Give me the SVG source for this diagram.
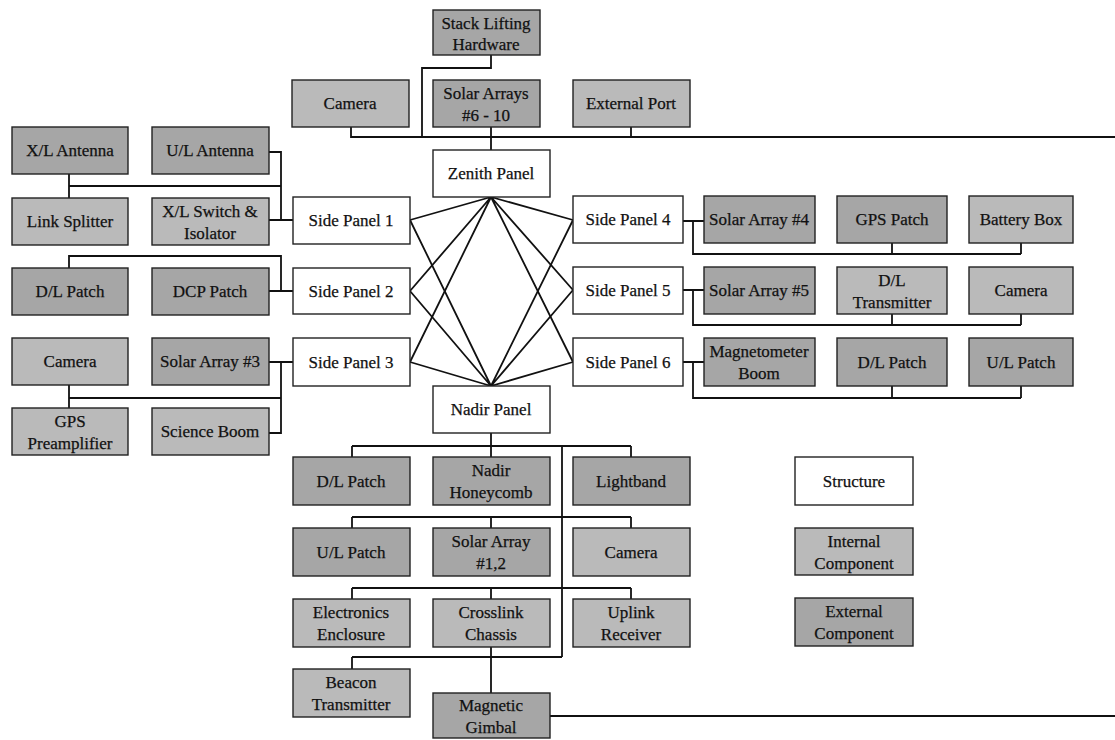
<svg xmlns="http://www.w3.org/2000/svg" width="1115" height="740" viewBox="0 0 1115 740" font-family="Liberation Serif, Tinos, DejaVu Serif, Times New Roman, serif">
<style>
.s rect{fill:#ffffff;stroke:#222;stroke-width:1.4}
.i rect{fill:#bababa;stroke:#222;stroke-width:1.4}
.e rect{fill:#a6a6a6;stroke:#222;stroke-width:1.4}
.t{font-size:17px;fill:#111;text-anchor:middle;stroke:#111;stroke-width:0.25}
#connectors path{fill:none;stroke:#111;stroke-width:1.8}
</style>
<rect width="1115" height="740" fill="#ffffff"/>
<g id="connectors">
<path d="M351,127V137H1115M491,55V68H422V137M491,127V150M631,127V137"/>
<path d="M69,174V198M69,186H281M269,152H281V220M269,220H293"/>
<path d="M69,268V256H281V291M269,291H293"/>
<path d="M269,362H293M281,362V433H269M69,385V408M69,398H281"/>
<path d="M491,197L410,220M491,197L410,291M491,197L410,362M491,197L573,220M491,197L573,290M491,197L573,362"/>
<path d="M491,386L410,220M491,386L410,291M491,386L410,362M491,386L573,220M491,386L573,290M491,386L573,362"/>
<path d="M683,221H704M693,221V254H1021M892,243V254M1021,243V254"/>
<path d="M683,290H704M693,290V325H1021M892,313V325M1021,313V325"/>
<path d="M683,362H704M693,362V398H1021M892,386V398M1021,386V398"/>
<path d="M491,433V446M352,446H631M352,446V457M491,446V457M631,446V457M562,446V657"/>
<path d="M352,517H631M352,517V528M491,517V528M631,517V528"/>
<path d="M352,588H631M352,588V599M491,588V599M631,588V599"/>
<path d="M352,657H562M352,657V669M491,647V693M550,716H1115"/>
</g>
<g class="t" font-family="Liberation Serif, serif">
<g id="stack" class="e"><rect x="433" y="10" width="107" height="45"/><text x="486" y="29">Stack Lifting</text><text x="486" y="50">Hardware</text></g>
<g id="cameraTop" class="i"><rect x="292" y="80" width="117" height="47"/><text x="350" y="109">Camera</text></g>
<g id="solar610" class="e"><rect x="433" y="80" width="107" height="47"/><text x="486" y="99">Solar Arrays</text><text x="486" y="121">#6 - 10</text></g>
<g id="extPort" class="i"><rect x="573" y="80" width="117" height="47"/><text x="631" y="109">External Port</text></g>
<g id="zenith" class="s"><rect x="433" y="150" width="117" height="47"/><text x="491" y="179">Zenith Panel</text></g>

<g id="xlAntenna" class="e"><rect x="12" y="127" width="116" height="47"/><text x="70" y="156">X/L Antenna</text></g>
<g id="ulAntenna" class="e"><rect x="152" y="127" width="117" height="47"/><text x="210" y="156">U/L Antenna</text></g>
<g id="linkSplitter" class="i"><rect x="12" y="198" width="116" height="47"/><text x="70" y="227">Link Splitter</text></g>
<g id="xlSwitch" class="i"><rect x="152" y="198" width="117" height="47"/><text x="210" y="217">X/L Switch &amp;</text><text x="210" y="239">Isolator</text></g>
<g id="sidePanel1" class="s"><rect x="293" y="197" width="117" height="47"/><text x="351" y="226">Side Panel 1</text></g>
<g id="dlPatchL" class="e"><rect x="12" y="268" width="116" height="47"/><text x="70" y="297">D/L Patch</text></g>
<g id="dcpPatch" class="e"><rect x="152" y="268" width="117" height="47"/><text x="210" y="297">DCP Patch</text></g>
<g id="sidePanel2" class="s"><rect x="293" y="268" width="117" height="46"/><text x="351" y="297">Side Panel 2</text></g>
<g id="cameraL" class="i"><rect x="12" y="338" width="116" height="47"/><text x="70" y="367">Camera</text></g>
<g id="solar3" class="e"><rect x="152" y="338" width="117" height="47"/><text x="210" y="367">Solar Array #3</text></g>
<g id="sidePanel3" class="s"><rect x="293" y="338" width="117" height="48"/><text x="351" y="368">Side Panel 3</text></g>
<g id="gpsPre" class="i"><rect x="12" y="408" width="116" height="47"/><text x="70" y="427">GPS</text><text x="70" y="449">Preamplifier</text></g>
<g id="sciBoom" class="i"><rect x="152" y="408" width="117" height="47"/><text x="210" y="437">Science Boom</text></g>

<g id="sidePanel4" class="s"><rect x="573" y="196" width="110" height="47"/><text x="628" y="225">Side Panel 4</text></g>
<g id="solar4" class="e"><rect x="704" y="196" width="111" height="47"/><text x="759" y="225">Solar Array #4</text></g>
<g id="gpsPatch" class="e"><rect x="837" y="196" width="110" height="47"/><text x="892" y="225">GPS Patch</text></g>
<g id="battery" class="i"><rect x="969" y="196" width="104" height="47"/><text x="1021" y="225">Battery Box</text></g>
<g id="sidePanel5" class="s"><rect x="573" y="267" width="110" height="47"/><text x="628" y="296">Side Panel 5</text></g>
<g id="solar5" class="e"><rect x="704" y="267" width="111" height="47"/><text x="759" y="296">Solar Array #5</text></g>
<g id="dlTrans" class="i"><rect x="837" y="267" width="110" height="47"/><text x="892" y="286">D/L</text><text x="892" y="308">Transmitter</text></g>
<g id="cameraR" class="i"><rect x="969" y="267" width="104" height="47"/><text x="1021" y="296">Camera</text></g>
<g id="sidePanel6" class="s"><rect x="573" y="338" width="110" height="48"/><text x="628" y="368">Side Panel 6</text></g>
<g id="magBoom" class="e"><rect x="704" y="338" width="111" height="48"/><text x="759" y="357">Magnetometer</text><text x="759" y="379">Boom</text></g>
<g id="dlPatchR" class="e"><rect x="837" y="338" width="110" height="48"/><text x="892" y="368">D/L Patch</text></g>
<g id="ulPatchR" class="e"><rect x="969" y="338" width="104" height="48"/><text x="1021" y="368">U/L Patch</text></g>

<g id="nadir" class="s"><rect x="433" y="386" width="117" height="47"/><text x="491" y="415">Nadir Panel</text></g>
<g id="dlPatchB" class="e"><rect x="293" y="457" width="117" height="48"/><text x="351" y="487">D/L Patch</text></g>
<g id="honeycomb" class="e"><rect x="433" y="457" width="117" height="48"/><text x="491" y="476">Nadir</text><text x="491" y="498">Honeycomb</text></g>
<g id="lightband" class="e"><rect x="573" y="457" width="117" height="48"/><text x="631" y="487">Lightband</text></g>
<g id="ulPatchB" class="e"><rect x="293" y="528" width="117" height="48"/><text x="351" y="558">U/L Patch</text></g>
<g id="solar12" class="e"><rect x="433" y="528" width="117" height="48"/><text x="491" y="547">Solar Array</text><text x="491" y="569">#1,2</text></g>
<g id="cameraB" class="i"><rect x="573" y="528" width="117" height="48"/><text x="631" y="558">Camera</text></g>
<g id="electronics" class="i"><rect x="293" y="599" width="117" height="48"/><text x="351" y="618">Electronics</text><text x="351" y="640">Enclosure</text></g>
<g id="crosslink" class="i"><rect x="433" y="599" width="117" height="48"/><text x="491" y="618">Crosslink</text><text x="491" y="640">Chassis</text></g>
<g id="uplink" class="i"><rect x="573" y="599" width="117" height="48"/><text x="631" y="618">Uplink</text><text x="631" y="640">Receiver</text></g>
<g id="beacon" class="i"><rect x="293" y="669" width="117" height="48"/><text x="351" y="688">Beacon</text><text x="351" y="710">Transmitter</text></g>
<g id="gimbal" class="e"><rect x="433" y="693" width="117" height="45"/><text x="491" y="711">Magnetic</text><text x="491" y="733">Gimbal</text></g>

<g id="legendStructure" class="s"><rect x="795" y="457" width="118" height="48"/><text x="854" y="487">Structure</text></g>
<g id="legendInternal" class="i"><rect x="795" y="528" width="118" height="47"/><text x="854" y="547">Internal</text><text x="854" y="569">Component</text></g>
<g id="legendExternal" class="e"><rect x="795" y="598" width="118" height="48"/><text x="854" y="617">External</text><text x="854" y="639">Component</text></g>
</g>
</svg>
